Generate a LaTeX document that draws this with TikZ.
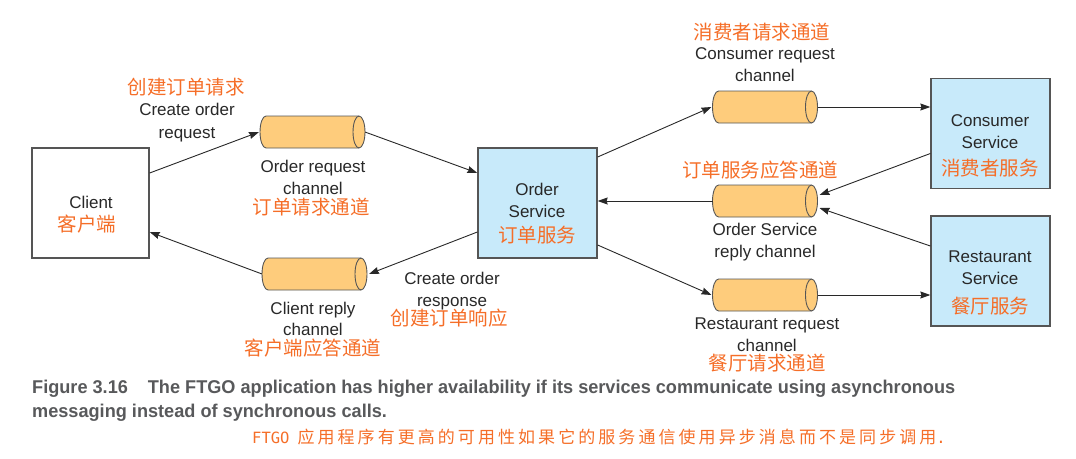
\documentclass[tikz,border=0pt]{standalone}
\usepackage{fontspec}
\usepackage{graphicx}
\setmainfont{Liberation Sans}
\newfontfamily\cjkfont{Noto Sans CJK SC}
\newfontfamily\cjkcapfont[LetterSpace=18]{Noto Sans CJK SC}
\newfontfamily\monofnt{DejaVu Sans Mono}
\usetikzlibrary{arrows.meta,calc}
\definecolor{boxblue}{RGB}{200,234,250}
\definecolor{chanfill}{RGB}{254,204,124}
\definecolor{edgegray}{RGB}{85,85,85}
\definecolor{txtgray}{RGB}{40,40,40}
\definecolor{cnorange}{RGB}{245,110,40}
\definecolor{capgray}{RGB}{88,89,91}
\newsavebox\capmeasure
\newdimen\capw
\newcommand\capone{Figure 3.16\hspace{1.1em}The FTGO application has higher availability if its services communicate using asynchronous}
\newcommand\drawcyl[1]{%
  \draw[cylline, fill=chanfill] ([xshift=6pt]#1.north west)
    arc[start angle=90, end angle=270, x radius=6pt, y radius=16pt]
    -- ([xshift=-6pt]#1.south east)
    arc[start angle=-90, end angle=90, x radius=6pt, y radius=16pt] -- cycle;
  \draw[cylline] ([xshift=-6pt]#1.north east)
    arc[start angle=90, end angle=270, x radius=6pt, y radius=16pt];}
\begin{document}
\sbox\capmeasure{\fontsize{18.5}{22}\selectfont\bfseries \capone}%
\capw=\wd\capmeasure
\pgfmathsetmacro\capscale{923/\capw}%
\begin{tikzpicture}[x=1pt,y=-1pt,
  svc/.style={draw=edgegray, line width=1.3pt, fill=boxblue, minimum width=119pt, minimum height=110pt, inner sep=0pt},
  clientbox/.style={draw=edgegray, line width=1.3pt, fill=white, minimum width=117pt, minimum height=110pt, inner sep=0pt},
  chan/.style={rectangle, minimum width=105pt, minimum height=32pt, inner sep=0pt, outer sep=0pt},
  cylline/.style={draw=edgegray, line width=0.9pt},
  conn/.style={draw=txtgray, line width=0.9pt, -{Stealth[length=10pt,width=7pt,inset=1pt]}},
  en/.style={font=\fontsize{17}{20}\selectfont, text=txtgray, inner sep=0pt, text height=11pt, text depth=0pt},
  cn/.style={font=\cjkfont\fontsize{19.5}{22}\selectfont, text=cnorange, inner sep=0pt, text height=14.6pt, text depth=0pt}]
\useasboundingbox (0,0) rectangle (1076,458);

% boxes
\node[clientbox] (client) at (90.5,203) {};
\node[svc] (os) at (537.5,203) {};
\node[svc] (consumer) at (990.5,133.5) {};
\node[svc] (restaurant) at (990.5,271) {};

% channels
\node[chan] (ordreq) at (312.5,132) {};
\node[chan] (clirep) at (314.5,274) {};
\node[chan] (conreq) at (765,107) {};
\node[chan] (osrep) at (765,201) {};
\node[chan] (resreq) at (765,295) {};
\drawcyl{ordreq}
\drawcyl{clirep}
\drawcyl{conreq}
\drawcyl{osrep}
\drawcyl{resreq}

% connectors
\draw[conn] ([yshift=30pt]client.east) -- ([xshift=-1pt]ordreq.west);
\draw[conn] (ordreq.east) -- ([yshift=30pt]os.west);
\draw[conn] ([yshift=-29pt]os.west) -- ([xshift=2pt]clirep.east);
\draw[conn] (clirep.west) -- ([yshift=-29pt]client.east);
\draw[conn] ([yshift=46pt]os.east) -- ([xshift=-1pt]conreq.west);
\draw[conn] (conreq.east) -- (conreq.east -| consumer.west);
\draw[conn] ([yshift=-20pt]consumer.west) -- ([xshift=2pt,yshift=6pt]osrep.east);
\draw[conn] ([yshift=25pt]restaurant.west) -- ([xshift=2pt,yshift=-7pt]osrep.east);
\draw[conn] (osrep.west) -- (osrep.west -| os.east);
\draw[conn] ([yshift=-42pt]os.east) -- ([xshift=-1pt]resreq.west);
\draw[conn] (resreq.east) -- (resreq.east -| restaurant.west);

% box texts
\node[en] (clientA) at (91,203) {Client};
\node[cn] (clientB) at (87,224) {客户端};
\node[en] (osA) at (537,190) {Order};
\node[en] (osB) at (537,212) {Service};
\node[cn] (osC) at (537,235) {订单服务};
\node[en] (conA) at (990,121) {Consumer};
\node[en] (conB) at (990,143) {Service};
\node[cn] (conC) at (990,168) {消费者服务};
\node[en] (resA) at (990,257) {Restaurant};
\node[en] (resB) at (990,279) {Service};
\node[cn] (resC) at (990,306) {餐厅服务};

% channel and arrow labels
\node[cn] (l1) at (186,87) {创建订单请求};
\node[en] (l2) at (187,110) {Create order};
\node[en] (l3) at (187,133) {request};
\node[en] (l4) at (313,167) {Order request};
\node[en] (l5) at (313,189) {channel};
\node[cn] (l6) at (311,207) {订单请求通道};
\node[en] (l7) at (313,309) {Client reply};
\node[en] (l8) at (313,330) {channel};
\node[cn] (l9) at (313,348) {客户端应答通道};
\node[en] (l10) at (452,279) {Create order};
\node[en] (l11) at (452,301) {response};
\node[cn] (l12) at (449,318) {创建订单响应};
\node[cn] (l13) at (762,32) {消费者请求通道};
\node[en] (l14) at (765,54) {Consumer request};
\node[en] (l15) at (765,76) {channel};
\node[cn] (l16) at (760,170) {订单服务应答通道};
\node[en] (l17) at (765,230) {Order Service};
\node[en] (l18) at (765,252) {reply channel};
\node[en] (l19) at (767,324) {Restaurant request};
\node[en] (l20) at (767,346) {channel};
\node[cn] (l21) at (767,363) {餐厅请求通道};

% caption
\node[anchor=base west, inner sep=0pt, text=capgray] (cap1) at (32,393)
  {\scalebox{\capscale}[1]{\fontsize{18.5}{22}\selectfont\bfseries \capone}};
\node[anchor=base west, inner sep=0pt, text=capgray] (cap2) at (32,417)
  {\scalebox{\capscale}[1]{\fontsize{18.5}{22}\selectfont\bfseries messaging instead of synchronous calls.}};
\node[anchor=base west, inner sep=0pt, text=cnorange] (cap3) at (252,443)
  {{\monofnt\fontsize{15.5}{20}\selectfont FTGO}\hspace{8pt}{\cjkcapfont\fontsize{17}{20}\selectfont 应用程序有更高的可用性如果它的服务通信使用异步消息而不是同步调用}{\monofnt\fontsize{15.5}{20}\selectfont .}};
\end{tikzpicture}
\end{document}
